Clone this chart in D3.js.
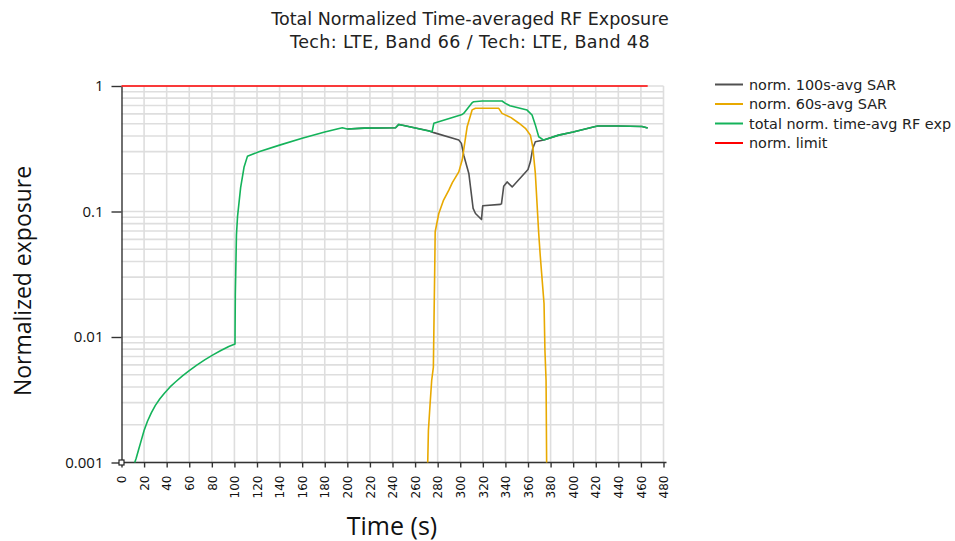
<!DOCTYPE html>
<html>
<head>
<meta charset="utf-8">
<script src="https://cdn.jsdelivr.net/npm/d3@7"></script>
<style>
  body{margin:0;background:#fff;}
  svg{display:block;}
</style>
</head>
<body>
<svg id="chart" width="955" height="541"></svg>
<script>
// time (s) / normalized value pairs
var timeGreen=[11.7,13,15,17.5,20,23,26.5,30,34,38,43,48,54,60,67,74,81,88,95,100.5,100.8,101.8,102.8,105.5,108.5,111.5,121.7,140,160,180,195.5,199.9,215,242.7,245.6,250,275.1,276.6,301.7,303,310.5,312,319.4,337,340,344,359.2,363.6,366.5,369.5,373.9,387.2,400,418.7,421.8,440,461,466];
var valGreen=[0.001,0.00108,0.00125,0.0015,0.0018,0.00213,0.0025,0.00285,0.00322,0.00356,0.004,0.0044,0.0049,0.0054,0.006,0.0066,0.0072,0.0078,0.0084,0.0088,0.022,0.065,0.092,0.155,0.225,0.275,0.299,0.338,0.383,0.43,0.465,0.454,0.462,0.465,0.494,0.485,0.432,0.504,0.594,0.605,0.736,0.75,0.759,0.759,0.727,0.697,0.643,0.587,0.49,0.394,0.371,0.406,0.43,0.474,0.48,0.48,0.476,0.463];

var timeGray=[200,215,242.7,245.6,250,272,276.6,298.7,301,303.1,307.6,311.4,313.5,318.8,319.9,335.6,336.5,338.5,341.5,346,360,362.1,364.2,366.5,373.9,387.2,400,418.7,421.8,440,461,466];
var valGray=[0.454,0.462,0.465,0.494,0.485,0.44,0.425,0.371,0.349,0.281,0.201,0.106,0.0964,0.0863,0.111,0.114,0.115,0.159,0.172,0.157,0.216,0.249,0.318,0.36,0.371,0.406,0.43,0.474,0.48,0.48,0.476,0.463];

var timeYellow=[271.2,271.8,273.3,274.7,276.2,276.8,277.4,277.8,281,285,289.9,293,298.7,301.7,306.1,310.5,313.5,334.1,337,345,352,357.7,362.1,364.2,366.5,369.5,370.8,372.1,374.2,375,376,376.5];
var valYellow=[0.001,0.0018,0.00294,0.0045,0.00575,0.0144,0.035,0.069,0.0964,0.122,0.148,0.17,0.207,0.257,0.473,0.645,0.664,0.664,0.605,0.56,0.505,0.46,0.406,0.328,0.201,0.0667,0.045,0.032,0.0185,0.0078,0.0045,0.001];

var timeLimit=[0,466];
var valLimit=[1,1];

var xTicks=d3.range(0,481,20);
var yTicks=[0.001,0.01,0.1,1];
var yTickLabels=["0.001","0.01","0.1","1"];

var seriesNames=["norm. 100s-avg SAR","norm. 60s-avg SAR","total norm. time-avg RF exp","norm. limit"];
var seriesColors=["#505050","#e8a900","#14b35a","#ff0000"];

var titleLines=["Total Normalized Time-averaged RF Exposure","Tech: LTE, Band 66 / Tech: LTE, Band 48"];

var svg=d3.select("#chart");

var x=d3.scaleLinear().domain([0,480]).range([121.5,663.5]);
var y=d3.scaleLog().domain([0.001,1]).range([462.5,86]);

//minor log grid values 1..9 per decade
var gridVals=[];
[0.001,0.01,0.1].forEach(function(d){
	for(var k=1;k<10;k++){ gridVals.push(d*k); }
});
gridVals.push(1);

var grid=svg.append("g").attr("class","grid");
grid.selectAll(".hg").data(gridVals).enter().append("line")
	.attr("x1",x(0)).attr("x2",x(480))
	.attr("y1",function(d){return y(d);}).attr("y2",function(d){return y(d);})
	.attr("stroke","#dedede").attr("stroke-width",1.6);
grid.selectAll(".vg").data(xTicks.slice(1)).enter().append("line")
	.attr("x1",function(d){return x(d);}).attr("x2",function(d){return x(d);})
	.attr("y1",y(1)).attr("y2",y(0.001))
	.attr("stroke","#dedede").attr("stroke-width",1.6);

// x axis
var xAxis=d3.axisBottom(x).tickValues(xTicks).tickSize(5).tickSizeOuter(0).tickFormat(d3.format("d"));
var gx=svg.append("g").attr("transform","translate(0,"+y(0.001)+")").call(xAxis);
gx.select(".domain").attr("d","M"+x(0)+",0H"+(x(480)+3)).attr("stroke","#333").attr("stroke-width",1.4);
gx.selectAll(".tick line").attr("stroke","#333").attr("stroke-width",1.4);
gx.selectAll(".tick text")
	.attr("font-family","DejaVu Sans, Verdana, sans-serif").attr("font-size",12).attr("fill","#111")
	.attr("text-anchor","end").attr("x",0).attr("y",0).attr("dy","0.35em")
	.attr("transform","translate(0,13) rotate(-90)");

// y axis
var yAxis=d3.axisLeft(y).tickValues(yTicks).tickSize(10).tickSizeOuter(0)
	.tickFormat(function(d,i){return yTickLabels[i];});
var gy=svg.append("g").attr("transform","translate("+x(0)+",0)").call(yAxis);
gy.select(".domain").attr("stroke","#333").attr("stroke-width",1.4);
gy.selectAll(".tick line").attr("stroke","#333").attr("stroke-width",1.4);
gy.selectAll(".tick text")
	.attr("font-family","Open Sans, Liberation Sans, sans-serif").attr("font-size",15).attr("fill","#111")
	.attr("x",-18);

// series lines
var line=d3.line().x(function(d){return x(d[0]);}).y(function(d){return y(d[1]);});
var series=[d3.zip(timeGray,valGray),d3.zip(timeYellow,valYellow),d3.zip(timeGreen,valGreen),d3.zip(timeLimit,valLimit)];
svg.append("g").selectAll("path").data(series).enter().append("path")
	.attr("d",line)
	.attr("fill","none")
	.attr("stroke",function(d,i){return seriesColors[i];})
	.attr("stroke-width",1.6)
	.attr("stroke-linejoin","round");

// origin marker
svg.append("rect").attr("x",x(0)-2.5).attr("y",y(0.001)-2.5).attr("width",5).attr("height",5)
	.attr("fill","#fff").attr("stroke","#222").attr("stroke-width",1.2);

// titles
svg.append("g").selectAll("text").data(titleLines).enter().append("text")
	.attr("x",470).attr("y",function(d,i){return 25+i*23;})
	.attr("text-anchor","middle")
	.attr("letter-spacing",function(d,i){return i===1?0.4:0;})
	.attr("font-family","DejaVu Sans, Verdana, sans-serif").attr("font-size",17.5).attr("fill","#222")
	.text(function(d){return d;});

svg.append("text").attr("x",392).attr("y",535).attr("text-anchor","middle")
	.attr("font-family","Open Sans, Liberation Sans, sans-serif").attr("font-size",25).attr("fill","#111")
	.text("Time (s)");
svg.append("text").attr("transform","translate(31,281) rotate(-90)").attr("text-anchor","middle")
	.attr("font-family","Open Sans, Liberation Sans, sans-serif").attr("font-size",23).attr("fill","#111")
	.text("Normalized exposure");

// legend
var legend=svg.append("g").attr("transform","translate(715,84.5)");
var li=legend.selectAll("g").data(seriesNames).enter().append("g")
	.attr("transform",function(d,i){return "translate(0,"+(i*19.5)+")";});
li.append("line").attr("x1",0).attr("x2",28).attr("y1",0).attr("y2",0)
	.attr("stroke",function(d,i){return seriesColors[i];}).attr("stroke-width",2);
li.append("text").attr("x",34).attr("y",0).attr("dy","0.35em")
	.attr("font-family","DejaVu Sans, Verdana, sans-serif").attr("font-size",14.4).attr("fill","#222")
	.text(function(d){return d;});
</script>
</body>
</html>
